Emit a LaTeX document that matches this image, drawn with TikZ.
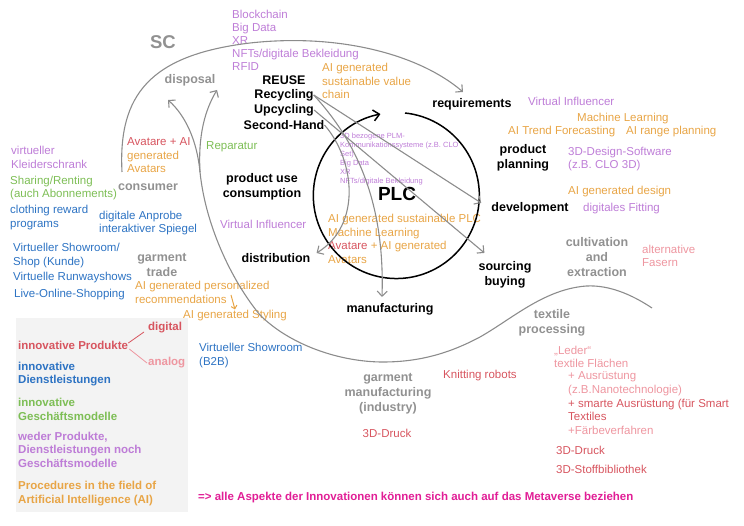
\documentclass[tikz,border=0pt]{standalone}
\usepackage{fontspec}
\setmainfont{Liberation Sans}
\usetikzlibrary{arrows.meta,calc}
\definecolor{techpurple}{RGB}{190,125,215}
\definecolor{aiorange}{RGB}{232,165,70}
\definecolor{prodred}{RGB}{215,85,95}
\definecolor{lightpink}{RGB}{238,150,160}
\definecolor{servblue}{RGB}{45,115,195}
\definecolor{bizgreen}{RGB}{125,190,85}
\definecolor{scgray}{RGB}{145,145,145}
\definecolor{metamag}{RGB}{225,30,150}
\definecolor{legendbg}{RGB}{243,243,243}
\definecolor{linegray}{RGB}{140,140,140}
\tikzset{
  txt/.style={inner sep=0pt, anchor=west, align=left, font=\fontsize{11.5}{13.5}\selectfont},
  lab/.style={inner sep=0pt, align=center, font=\bfseries\fontsize{12.5}{15}\selectfont},
  leg/.style={inner sep=0pt, anchor=west, align=left, font=\bfseries\fontsize{11.5}{13.5}\selectfont},
  gline/.style={draw=linegray, line width=1.1pt},
  conn/.style={gline, -{Straight Barb[length=5pt,width=10pt]}},
}
\begin{document}
\begin{tikzpicture}[x=1pt,y=-1pt]
\useasboundingbox (0,0) rectangle (744,526);
\fill[legendbg] (16,318) rectangle (188,512);

% ---------- text nodes ----------
\node[lab, text=scgray, font=\bfseries\fontsize{18.5}{20}\selectfont] (sc) at (163,42) {SC};
\node[lab, text=scgray] (disposal) at (190,80) {disposal};
\node[txt, text=techpurple, font=\fontsize{11.5}{13}\selectfont] (tech1) at (232,40) {Blockchain\\Big Data\\XR\\NFTs/digitale Bekleidung\\RFID};
\node[lab] (reuse) at (284,80) {REUSE};
\node[lab] (recyc) at (284,95) {Recycling};
\node[lab] (upcyc) at (284,110) {Upcycling};
\node[lab] (second) at (284,125) {Second-Hand};
\node[txt, text=aiorange] (aivc) at (322,81) {AI generated\\sustainable value\\chain};
\node[lab] (req) at (472,104) {requirements};
\node[txt, text=techpurple] (vinf1) at (528,101) {Virtual Influencer};
\node[txt, text=aiorange] (ml1) at (577,119) {Machine Learning};
\node[txt, text=aiorange] (trend) at (508,132) {AI Trend Forecasting};
\node[txt, text=aiorange] (range) at (626,132) {AI range planning};
\node[lab] (pp) at (523,157.5) {product\\planning};
\node[txt, text=techpurple] (clo) at (568,159) {3D-Design-Software\\(z.B. CLO 3D)};
\node[txt, text=aiorange] (aidesign) at (568,192) {AI generated design};
\node[lab] (dev) at (530,208) {development};
\node[txt, text=techpurple] (fit) at (583,209) {digitales Fitting};
\node[lab, text=scgray] (cult) at (597,257) {cultivation\\and\\extraction};
\node[txt, text=lightpink] (fasern) at (642,256) {alternative\\Fasern};
\node[lab] (sourcing) at (505,274.5) {sourcing\\buying};
\node[lab, text=scgray] (textile) at (552,323) {textile\\processing};
\node[txt, text=lightpink] (leder) at (554,357) {„Leder“\\textile Flächen};
\node[txt, text=lightpink] (ausr) at (568,383.5) {+ Ausrüstung\\(z.B.Nanotechnologie)};
\node[txt, text=prodred] (smart) at (568,410) {+ smarte Ausrüstung (für Smart\\Textiles};
\node[txt, text=lightpink] (faerb) at (568,430) {+Färbeverfahren};
\node[txt, text=prodred] (druck2) at (556,450) {3D-Druck};
\node[txt, text=prodred] (stoff) at (556,469) {3D-Stoffbibliothek};
\node[txt, text=prodred] (knit) at (443,376) {Knitting robots};
\node[lab, text=scgray] (gm) at (388,393.5) {garment\\manufacturing\\(industry)};
\node[txt, anchor=center, text=prodred] (druck1) at (387,433) {3D-Druck};
\node[lab] (manu) at (390,309) {manufacturing};
\node[txt, text=servblue] (b2b) at (199,355.5) {Virtueller Showroom\\(B2B)};
\node[txt, text=aiorange] (styling) at (183,316) {AI generated Styling};
\node[txt, text=aiorange] (reco) at (135,292.5) {AI generated personalized\\recommendations};
\node[lab, text=scgray] (trade) at (162,264.5) {garment\\trade};
\node[txt, text=servblue] (vshop) at (13,255.5) {Virtueller Showroom/\\Shop (Kunde)};
\node[txt, text=servblue] (runway) at (13,278) {Virtuelle Runwayshows};
\node[txt, text=servblue] (live) at (14,295) {Live-Online-Shopping};
\node[txt, text=servblue] (reward) at (10,217.5) {clothing reward\\programs};
\node[txt, text=servblue] (anprobe) at (99,223) {digitale Anprobe\\interaktiver Spiegel};
\node[txt, text=bizgreen] (sharing) at (10,188) {Sharing/Renting\\(auch Abonnements)};
\node[txt, text=techpurple] (kleider) at (11,157.5) {virtueller\\Kleiderschrank};
\node[lab, text=scgray] (consumer) at (148,187) {consumer};
\node[txt, text=aiorange] (avat1) at (127,155.5) {{\color{prodred}Avatare + AI}\\generated\\Avatars};
\node[txt, text=bizgreen] (rep) at (206,147) {Reparatur};
\node[lab] (use) at (262,186.5) {product use\\consumption};
\node[txt, text=techpurple] (vinf2) at (220,224) {Virtual Influencer};
\node[lab] (distr) at (276,258) {distribution};
\node[txt, text=techpurple, font=\fontsize{7.5}{9}\selectfont] (plm) at (340,159.5) {3D bezogene PLM-\\Kommunikationssysteme (z.B. CLO\\Set)\\Big Data\\XR\\NFTs/digitale Bekleidung};
\node[lab, font=\bfseries\fontsize{19}{21}\selectfont] (plc) at (397,194) {PLC};
\node[txt, text=aiorange] (aiplc) at (328,239) {AI generated sustainable PLC\\Machine Learning\\{\color{prodred}Avatare} + AI generated\\Avatars};

% ---------- legend ----------
\node[leg, text=prodred] (iprod) at (18,345) {innovative Produkte};
\node[leg, text=prodred] (digital) at (148,328) {digital};
\node[leg, text=lightpink] (analog) at (148,363) {analog};
\node[leg, text=servblue] (idl) at (18,374) {innovative\\Dienstleistungen};
\node[leg, text=bizgreen] (igm) at (18,409.5) {innovative\\Geschäftsmodelle};
\node[leg, text=techpurple] (weder) at (18,449.5) {weder Produkte,\\Dienstleistungen noch\\Geschäftsmodelle};
\node[leg, text=aiorange] (aiproc) at (18,493.5) {Procedures in the field of\\Artificial Intelligence (AI)};
\node[leg, text=metamag] (meta) at (198,498) {=> alle Aspekte der Innovationen können sich auch auf das Metaverse beziehen};
\draw[prodred, line width=0.8pt] ($(iprod.east)+(0,-2)$) -- ($(digital.west)+(-4,4)$);
\draw[lightpink, line width=0.8pt] ($(iprod.east)+(1,4)$) -- ($(analog.west)+(-1,0)$);

% ---------- PLC circle ----------
\coordinate (plcstart) at (405,113);
\draw[line width=1.5pt, -{Straight Barb[length=6pt,width=11pt]}] (plcstart) arc[start angle=84, end angle=-259, radius=83pt];

% ---------- SC arcs ----------
\coordinate (scstart) at (122,172);
\coordinate (scend) at (463,92);
\draw[conn] (scstart) .. controls (118,95) and (150,55) .. (250,43) .. controls (340,33) and (420,55) .. (scend);

\coordinate (bigstart) at (652,308);
\coordinate (junc) at (200,172);
\coordinate (disA) at (168,100);
\coordinate (disB) at (217,90);
\draw[gline] (bigstart) .. controls (625,290) and (600,283) .. (578,287) .. controls (540,293) and (510,320) .. (480,337) .. controls (450,353) and (420,362) .. (383,362) .. controls (340,362) and (290,345) .. (260,315) .. controls (235,285) and (206,230) .. (junc);
\draw[conn] (junc) .. controls (198,135) and (205,110) .. (disB);
\draw[conn] (junc) .. controls (197,140) and (185,115) .. (disA);

% ---------- reuse arrows ----------
\draw[conn] (recyc.east) -- ($(dev.west)+(-10,-5)$);
\draw[conn] (upcyc.east) -- ($(sourcing.north west)+(6,-8)$);
\draw[conn] (recyc.east) .. controls (355,140) and (385,200) .. ($(manu.north)+(-8,-6)$);
\draw[conn] (second.east) .. controls (355,160) and (362,225) .. ($(distr.east)+(6,-5)$);

% small orange arrow
\coordinate (recoarrow) at (231,295);
\draw[aiorange, line width=1pt, -{Straight Barb[length=3pt,width=6pt]}] (recoarrow) -- ($(styling.north)+(0,-1)$);
\end{tikzpicture}
\end{document}
